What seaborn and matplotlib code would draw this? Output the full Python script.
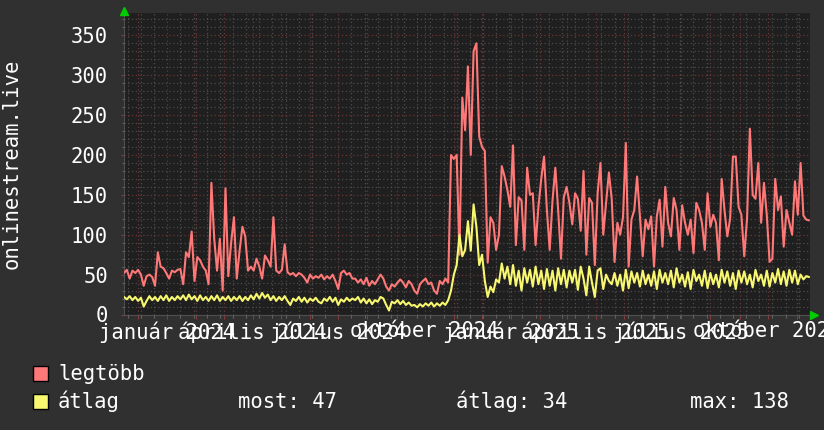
import matplotlib
matplotlib.use('Agg')
import numpy as np
import pandas as pd
import matplotlib.pyplot as plt
import matplotlib.dates as mdates
from matplotlib.ticker import MultipleLocator, FuncFormatter, NullFormatter
from matplotlib.patches import Rectangle
import seaborn as sns

# ---------------- data ----------------
start_date = '2023-11-16'
step_days = 3

legtobb = [
    52, 56, 45, 55, 52, 56, 50, 36, 48, 50,
    47, 36, 78, 60, 58, 52, 45, 55, 53, 56,
    57, 38, 78, 72, 104, 42, 72, 68, 60, 55,
    38, 165, 95, 55, 95, 30, 158, 48, 90, 122,
    45, 80, 110, 98, 55, 60, 55, 70, 60, 45,
    74, 68, 60, 122, 55, 52, 56, 88, 53, 50,
    52, 48, 52, 50, 46, 40, 50, 45, 48, 46,
    50, 44, 48, 45, 50, 42, 32, 52, 55, 50,
    52, 45,
    45, 40, 44, 38, 46, 36, 42, 38, 44, 50,
    45, 35, 30, 38, 35, 40, 44, 40, 34, 42,
    38, 30, 26, 38, 42, 45, 38, 40, 30, 26,
    42, 38, 45, 40, 200, 195, 200, 75, 272, 231,
    311, 200, 330, 340, 223, 210, 205, 65, 122, 115,
    81, 100, 186, 173, 156, 135, 212, 87, 147, 143,
    81, 184, 150, 152, 87, 135, 170, 198, 131, 81,
    143, 184, 131, 70, 147, 160, 140, 113,
    152, 145, 105, 180, 75, 146, 140, 62, 152, 190,
    100, 140, 178, 145, 66, 115, 100, 122, 215, 60,
    119, 131, 173, 123, 73, 119, 107, 123, 60, 123,
    144, 85, 160, 115, 98, 146, 131, 81, 137, 115,
    100, 119, 77, 140, 131, 115, 81, 152, 110, 125,
    115, 68, 170, 131, 98, 120, 198, 198, 135, 125,
    73, 120, 233, 150, 145, 190, 115, 165, 125, 66,
    70, 170, 131, 148, 85, 131, 115, 100, 167, 125,
    190, 124, 119, 118,
]

atlag = [
    22, 19, 23, 18, 22, 17, 21, 10, 17, 23,
    18, 22, 17, 23, 18, 24, 17, 22, 18, 23,
    19, 24, 18, 25, 19, 23, 17, 24, 18, 22,
    17, 23, 18, 24, 17, 22, 18, 23, 17, 22,
    18, 23, 17, 22, 18, 24, 19, 26, 20, 27,
    21, 25, 18, 23, 17, 22, 18, 23, 17, 12,
    20, 17, 22, 16, 21, 15, 20, 17, 21, 16,
    14, 20, 17, 22, 16, 21, 12, 19, 16, 21,
    17, 20,
    18, 22, 15, 20, 14, 19, 13, 18, 16, 22,
    20, 12, 5, 16, 14, 18, 13, 17, 12, 15,
    11, 12, 9, 13, 10, 14, 11, 15, 10, 14,
    11, 15, 12, 18, 30, 50, 62, 100, 73, 81,
    117, 80, 138, 110, 62, 75, 42, 22, 35, 28,
    44, 40, 64, 45, 60, 38, 62, 36, 55, 30,
    58, 40, 56, 35, 60, 38, 55, 32, 57, 36,
    55, 30, 58, 38, 56, 34, 55, 40,
    56, 31, 60, 45, 24, 60, 40, 22, 55, 58,
    32, 50, 42, 38, 52, 36, 50, 30, 56, 33,
    54, 40, 52, 35, 55, 38, 50, 36, 54, 32,
    56, 40, 52, 38, 55, 34, 58, 40, 50, 35,
    53, 32, 56, 42, 50, 36, 55, 33, 52, 38,
    50, 34, 56, 40, 54, 36, 52, 32, 55, 40,
    54, 38, 50, 34, 56, 42, 50, 36, 55, 35,
    52, 40, 57, 38, 54, 36, 56, 40, 55, 38,
    50, 44, 48, 47,
]

series_names = ['legtöbb', 'átlag']
month_names = ['január', 'február', 'március', 'április', 'május', 'június',
               'július', 'augusztus', 'szeptember', 'október', 'november', 'december']
label_months = [1, 4, 7, 10]
y_title = 'onlinestream.live'
stat_texts = ['most: 47', 'átlag: 34', 'max: 138']

# ---------------- style ----------------
BG = '#303030'
PLOT_BG = '#1f1f1f'
RED = '#ff7878'
YEL = '#f8f870'
GRID_MINOR = '#4c4c4c'
GRID_MAJOR = '#6e3535'
TXT = '#ffffff'
FS = 14.8

dates = pd.date_range(start_date, periods=len(legtobb), freq=f'{step_days}D')
df = pd.DataFrame({'date': dates, series_names[0]: legtobb, series_names[1]: atlag})

sns.set_theme(style='dark')
plt.rcParams['font.family'] = ['DejaVu Sans Mono', 'DejaVu Sans']

W, H = 824, 430
fig = plt.figure(figsize=(W / 100, H / 100), dpi=100, facecolor=BG)
left, right, top, bottom = 124, 810, 13, 314.5
ax = fig.add_axes([left / W, (H - bottom) / H, (right - left) / W, (bottom - top) / H])
ax.set_facecolor(PLOT_BG)

sns.lineplot(data=df, x='date', y=series_names[0], ax=ax, color=RED, lw=1.5, zorder=3)
sns.lineplot(data=df, x='date', y=series_names[1], ax=ax, color=YEL, lw=1.5, zorder=4)

x0 = pd.Timestamp(start_date)
ax.set_xlim(x0, x0 + pd.Timedelta(days=730))
ax.set_ylim(0, 378)
ax.set_xlabel('')
ax.set_ylabel('')

ax.yaxis.set_major_locator(MultipleLocator(50))
ax.yaxis.set_minor_locator(MultipleLocator(10))
ax.xaxis.set_major_locator(mdates.MonthLocator())
ax.xaxis.set_minor_locator(mdates.WeekdayLocator(byweekday=mdates.MO, interval=2))


def fmt_month(v, pos):
    d = mdates.num2date(v)
    if d.month in label_months and d.day == 1:
        return f'{month_names[d.month - 1]} {d.year}'
    return ''


ax.xaxis.set_major_formatter(FuncFormatter(fmt_month))
ax.xaxis.set_minor_formatter(NullFormatter())
ax.yaxis.set_major_formatter(FuncFormatter(lambda v, p: f'{int(v)}'))

ax.grid(True, which='minor', color=GRID_MINOR, ls=(0, (1, 2)), lw=0.9)
ax.grid(True, which='major', color=GRID_MAJOR, ls=(0, (1, 2)), lw=0.9)
ax.set_axisbelow(True)

ax.tick_params(axis='x', which='major', bottom=True, length=3, width=0.8, color='#8a3a3a',
               pad=2, labelsize=FS, labelcolor=TXT)
ax.tick_params(axis='x', which='minor', bottom=True, length=2, width=0.8, color='#666666')
ax.tick_params(axis='y', which='major', left=True, length=2, width=0.8, color='#8a3a3a',
               pad=9.5, labelsize=FS, labelcolor=TXT)
ax.tick_params(axis='y', which='minor', left=True, length=1.5, width=0.8, color='#666666')

for s in ['top', 'right']:
    ax.spines[s].set_visible(False)
for s in ['left', 'bottom']:
    ax.spines[s].set_color('#505050')
    ax.spines[s].set_linewidth(0.8)

# rrdtool-style arrows at axis ends
fig.add_artist(plt.Line2D([124.5 / W], [1 - 10.5 / H], marker='^', color='#00cc00',
                          ms=6, transform=fig.transFigure, ls='none'))
fig.add_artist(plt.Line2D([813.5 / W], [1 - 314.5 / H], marker='>', color='#00cc00',
                          ms=6, transform=fig.transFigure, ls='none'))

# y title
fig.text(12 / W, 1 - 164 / H, y_title, rotation=90, ha='center', va='center',
         color=TXT, fontsize=FS)

# legend
rows = [(373.5, RED, series_names[0]), (401.5, YEL, series_names[1])]
for yc, col, name in rows:
    fig.add_artist(Rectangle((33 / W, 1 - (yc + 7.5) / H), 15 / W, 15 / H,
                             transform=fig.transFigure, facecolor=col,
                             edgecolor='black', lw=1))
    fig.text(58 / W, 1 - yc / H, name, ha='left', va='center', color=TXT, fontsize=FS)
for xs, t in zip([238, 456, 690], stat_texts):
    fig.text(xs / W, 1 - 401.5 / H, t, ha='left', va='center', color=TXT, fontsize=FS)

fig.savefig('out.png', dpi=100, facecolor=BG)
